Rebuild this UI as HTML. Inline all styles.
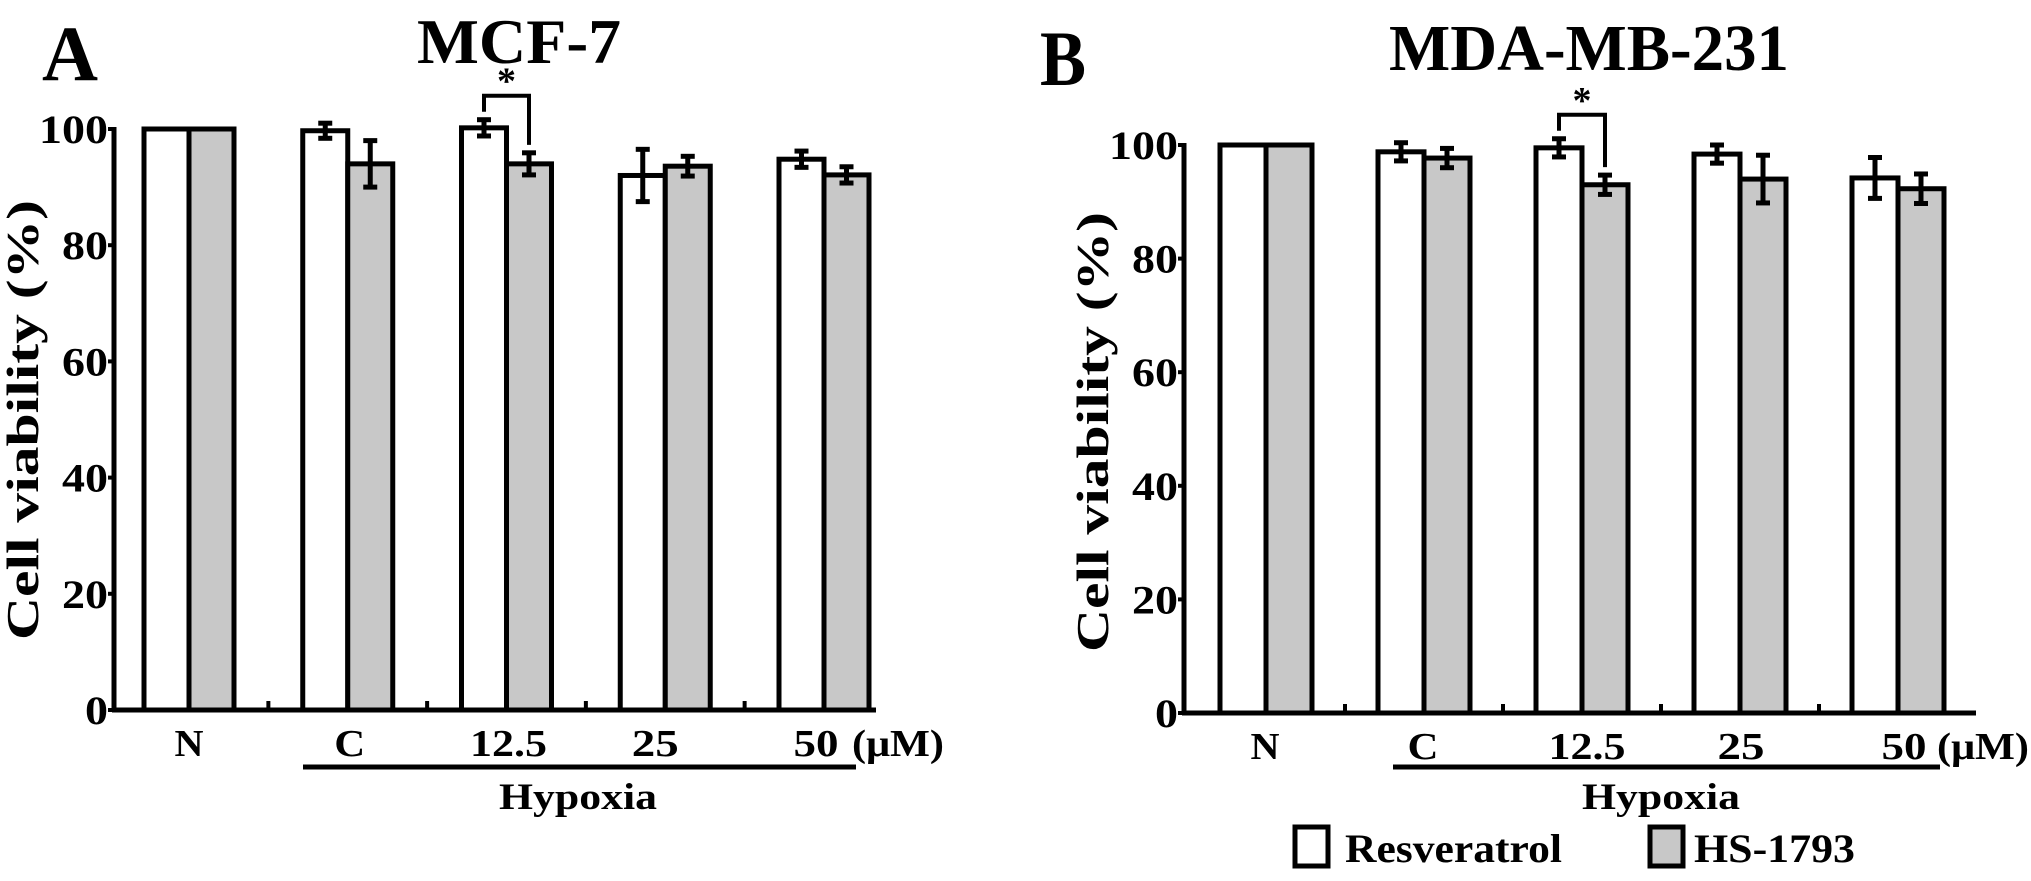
<!DOCTYPE html>
<html><head><meta charset="utf-8">
<style>
html,body{margin:0;padding:0;background:#fff;}
svg{display:block;}
text{font-family:"Liberation Serif","DejaVu Serif",serif;font-weight:bold;fill:#000;}
</style></head>
<body>
<svg id="fig" width="2031" height="881" viewBox="0 0 2031 881" xmlns="http://www.w3.org/2000/svg">
  <text x="42" y="80" font-size="78" textLength="56" lengthAdjust="spacingAndGlyphs">A</text>
  <text x="417" y="63" font-size="64" textLength="204" lengthAdjust="spacingAndGlyphs">MCF-7</text>
  <text x="1040" y="85" font-size="78" textLength="46" lengthAdjust="spacingAndGlyphs">B</text>
  <text x="1389" y="70" font-size="66" textLength="400" lengthAdjust="spacingAndGlyphs">MDA-MB-231</text>
  <g id="panelA"></g>
  <g id="panelB"></g>
  <g>
    <rect x="1295" y="827" width="33" height="39" fill="#fff" stroke="#000" stroke-width="5"/>
    <text x="1345" y="862" font-size="40" textLength="217" lengthAdjust="spacingAndGlyphs">Resveratrol</text>
    <rect x="1650" y="827" width="33" height="39" fill="#c8c8c8" stroke="#000" stroke-width="5"/>
    <text x="1694" y="862" font-size="40" textLength="161" lengthAdjust="spacingAndGlyphs">HS-1793</text>
  </g>
</svg>
<script>
const categories = ["N", "C", "12.5", "25", "50"];
const yTicks = [0, 20, 40, 60, 80, 100];
const mcfResveratrol = [100, 99.7, 100.2, 92.0, 94.8];
const mcfResveratrolErr = [0, 1.3, 1.4, 4.5, 1.4];
const mcfHS = [100, 94.0, 94.0, 93.6, 92.1];
const mcfHSErr = [0, 4.0, 1.9, 1.7, 1.4];
const mdaResveratrol = [100, 98.8, 99.5, 98.4, 94.2];
const mdaResveratrolErr = [0, 1.6, 1.6, 1.6, 3.6];
const mdaHS = [100, 97.7, 93.0, 94.0, 92.3];
const mdaHSErr = [0, 1.7, 1.7, 4.2, 2.6];
const labelWidths = [29, 31, 77, 47, 45];

const NS = "http://www.w3.org/2000/svg";
function mk(parent, tag, attrs) {
  const e = document.createElementNS(NS, tag);
  for (const k in attrs) e.setAttribute(k, attrs[k]);
  parent.appendChild(e);
  return e;
}

function drawPanel(g, cfg, white, whiteErr, gray, grayErr, prefix) {
  const y = v => cfg.y0 - (v / 100) * (cfg.y0 - cfg.y100);
  const cx = i => cfg.c0 + i * cfg.step;
  categories.forEach((c, i) => {
    const vals = [[white[i], whiteErr[i], "#fff", "resveratrol", -1], [gray[i], grayErr[i], "#c8c8c8", "hs1793", 0]];
    vals.forEach(([v, err, fill, name, off]) => {
      const x = cx(i) + off * cfg.bw;
      const r = mk(g, "rect", {x: x, y: y(v), width: cfg.bw, height: y(0) - y(v), fill: fill, stroke: "#000", "stroke-width": 5});
      
      
      if (err > 0) {
        const m = x + cfg.bw / 2;
        const eg = mk(g, "g", {stroke: "#000", "stroke-width": 5});
        
        
        mk(eg, "line", {x1: m, x2: m, y1: y(v + err), y2: y(v - err)});
        mk(eg, "line", {x1: m - 7, x2: m + 7, y1: y(v + err), y2: y(v + err)});
        mk(eg, "line", {x1: m - 7, x2: m + 7, y1: y(v - err), y2: y(v - err)});
      }
    });
    const t = mk(g, "text", {x: cx(i) + cfg.labelDx[i], y: cfg.labelY, "font-size": 38, "text-anchor": "middle", textLength: labelWidths[i], lengthAdjust: "spacingAndGlyphs"});
    t.textContent = c;
    
    
    if (i < categories.length - 1) {
      const mt = mk(g, "line", {x1: cx(i) + cfg.step / 2, x2: cx(i) + cfg.step / 2, y1: y(0), y2: y(0) - 9, stroke: "#000", "stroke-width": 4});
      
      
    }
  });
  const ya = mk(g, "line", {x1: cfg.ax, x2: cfg.ax, y1: y(100) - 2, y2: y(0) + 2, stroke: "#000", "stroke-width": 5});
  
  
  const xa = mk(g, "line", {x1: cfg.ax - 2, x2: cfg.xend, y1: y(0), y2: y(0), stroke: "#000", "stroke-width": 5});
  
  
  yTicks.forEach(v => {
    const tk = mk(g, "line", {x1: cfg.ax - 6, x2: cfg.ax, y1: y(v), y2: y(v), stroke: "#000", "stroke-width": 4});
    
    
    const s = String(v);
    const t = mk(g, "text", {x: cfg.ax - 6, y: y(v) + 14, "font-size": 40, "text-anchor": "end", textLength: s.length * 23, lengthAdjust: "spacingAndGlyphs"});
    t.textContent = s;
    
    
  });
  const um = mk(g, "text", {x: cfg.umX, y: cfg.labelY, "font-size": 38, textLength: 92, lengthAdjust: "spacingAndGlyphs"});
  um.textContent = "(\u03bcM)";
  
  
  const hl = mk(g, "line", {x1: cfg.hyp[0], x2: cfg.hyp[1], y1: cfg.hypY, y2: cfg.hypY, stroke: "#000", "stroke-width": 5});
  
  
  const ht = mk(g, "text", {x: cfg.hypTx, y: cfg.hypY + 42, "font-size": 37, "text-anchor": "middle", textLength: 158, lengthAdjust: "spacingAndGlyphs"});
  ht.textContent = "Hypoxia";
  
  
  const yt = mk(g, "text", {x: 0, y: 0, "font-size": 46, "text-anchor": "middle", textLength: 440, lengthAdjust: "spacingAndGlyphs", transform: "translate(" + cfg.ylabX + "," + cfg.ylabY + ") rotate(-90)"});
  yt.textContent = "Cell viability (%)";
  
  
  const i = 2;
  const lx = cx(i) - cfg.bw / 2, rx = cx(i) + cfg.bw / 2;
  const topY = y(white[i] + whiteErr[i]) - 24;
  const br = mk(g, "polyline", {points: lx + "," + (y(white[i] + whiteErr[i]) - 8) + " " + lx + "," + topY + " " + rx + "," + topY + " " + rx + "," + (y(gray[i] + grayErr[i]) - 8), fill: "none", stroke: "#000", "stroke-width": 4});
  
  
  const st = mk(g, "text", {x: cx(i), y: topY - 2, "font-size": 38, "text-anchor": "middle"});
  st.textContent = "*";
  
  
}

drawPanel(document.getElementById("panelA"), {
  ax: 114, xend: 876, y0: 710, y100: 129, c0: 189, step: 158.75, bw: 45,
  labelY: 756, labelDx: [0, 2, 2, -10, -8], umX: 852,
  hyp: [303, 856], hypY: 767, hypTx: 578, ylabX: 38, ylabY: 420
}, mcfResveratrol, mcfResveratrolErr, mcfHS, mcfHSErr, "mcf7");

drawPanel(document.getElementById("panelB"), {
  ax: 1184, xend: 1976, y0: 713, y100: 145, c0: 1266, step: 158, bw: 46,
  labelY: 759, labelDx: [-1, -1, 5, 1, 6], umX: 1937,
  hyp: [1393, 1940], hypY: 767, hypTx: 1661, ylabX: 1108, ylabY: 432
}, mdaResveratrol, mdaResveratrolErr, mdaHS, mdaHSErr, "mda231");
</script>
</body></html>
